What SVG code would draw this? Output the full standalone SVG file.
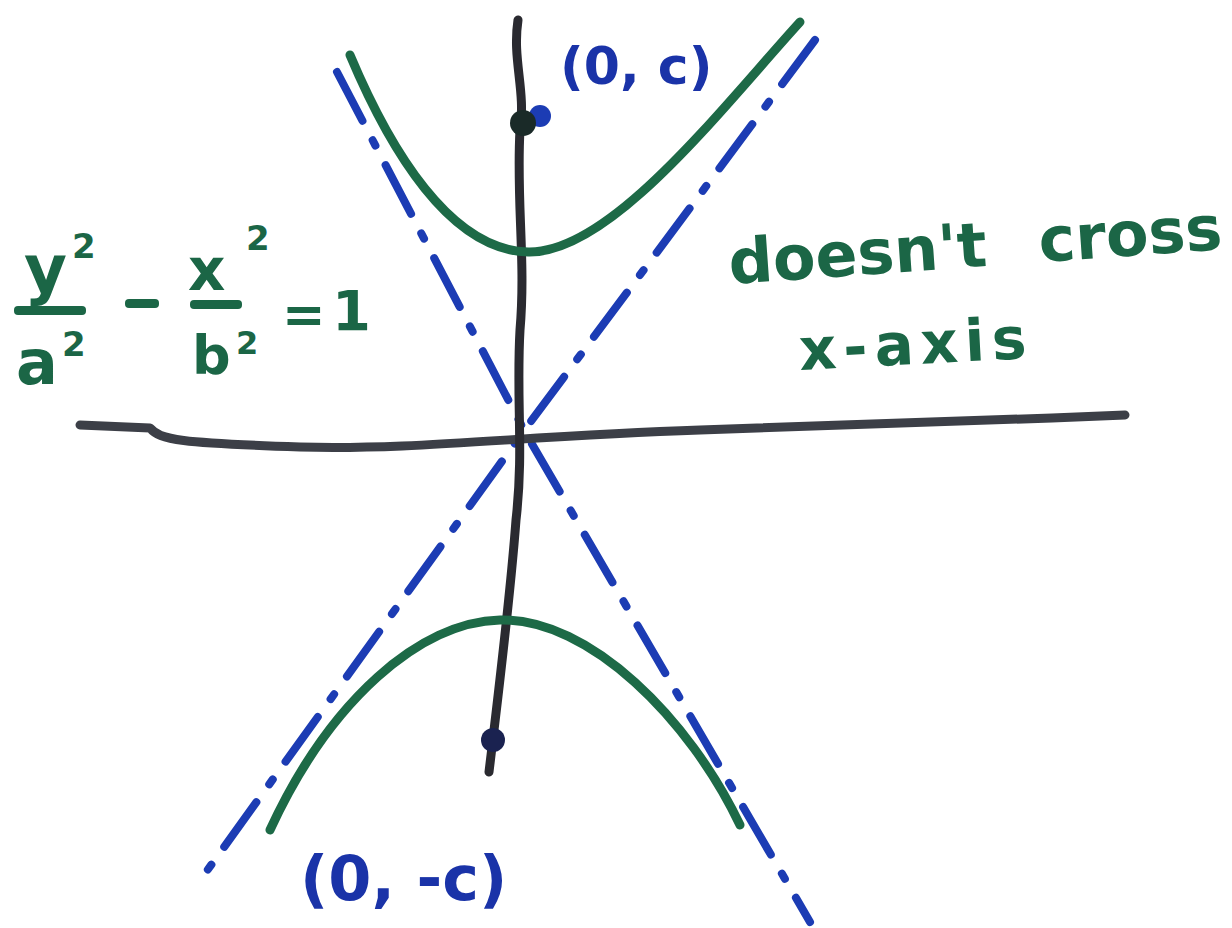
<svg xmlns="http://www.w3.org/2000/svg" width="1232" height="928" viewBox="0 0 1232 928">
<style>
.axis{fill:none;stroke:#2a2a30;stroke-width:9;stroke-linecap:round;stroke-linejoin:round}
.hax{stroke:#3c3f47}
.hyp{fill:none;stroke:#1d6a47;stroke-width:9;stroke-linecap:round}
.asym{fill:none;stroke:#1c3cb4;stroke-width:8;stroke-linecap:round;stroke-dasharray:55 22 6 22}
.g{fill:#1b6646;font-family:"DejaVu Sans",sans-serif;font-weight:bold}
.b{fill:#1a33a8;font-family:"DejaVu Sans",sans-serif;font-weight:bold}
</style>
<rect width="1232" height="928" fill="#ffffff"/>
<g id="connectors">
<path id="asym1" class="asym" d="M337,72 L525,432 L810,922"/>
<path id="asym2" class="asym" d="M815,40 L523,432 L196,886"/>
<path id="xaxis" class="axis hax" d="M80,425 L150,428 C160,440 180,443 300,447 C420,450 520,436 700,430 C900,424 1000,420 1125,415"/>
<path id="yaxis" class="axis" d="M518,20 C512,60 526,90 520,130 C516,200 526,260 520,330 C516,400 524,450 516,520 C510,600 500,680 489,772"/>
</g>
<g id="upper-branch"><path class="hyp" d="M350,55 C390,150 450,250 528,252 C610,254 720,110 800,22"/></g>
<g id="lower-branch"><path class="hyp" d="M270,830 C330,700 420,622 500,620 C590,618 690,720 740,825"/></g>
<g id="focus-top"><circle cx="540" cy="116" r="11" fill="#1c3cb4"/><circle cx="523" cy="123" r="13" fill="#1a2a28"/></g>
<g id="focus-bottom"><circle cx="493" cy="740" r="12" fill="#1a2250"/></g>
<g id="label-top"><text class="b" x="560" y="84" font-size="52">(0, c)</text></g>
<g id="label-bottom"><text class="b" x="300" y="900" font-size="62">(0, -c)</text></g>
<g id="equation">
<text class="g" x="24" y="292" font-size="66">y</text>
<text class="g" x="72" y="258" font-size="34">2</text>
<rect x="14" y="306" width="72" height="9" rx="4" fill="#1b6646"/>
<text class="g" x="16" y="384" font-size="62">a</text>
<text class="g" x="62" y="356" font-size="34">2</text>
<rect x="125" y="299" width="34" height="9" rx="4" fill="#1b6646"/>
<text class="g" x="188" y="290" font-size="58">x</text>
<text class="g" x="246" y="250" font-size="34">2</text>
<rect x="190" y="300" width="52" height="9" rx="4" fill="#1b6646"/>
<text class="g" x="192" y="374" font-size="54">b</text>
<text class="g" x="236" y="354" font-size="32">2</text>
<text class="g" x="282" y="332" font-size="52">=</text>
<text class="g" x="332" y="330" font-size="56">1</text>
</g>
<g id="note">
<text class="g" x="730" y="284" font-size="62" transform="rotate(-4 730 284)">doesn't</text>
<text class="g" x="1040" y="262" font-size="62" transform="rotate(-4 1040 262)">cross</text>
<text class="g" x="800" y="370" font-size="58" letter-spacing="7" transform="rotate(-3 800 370)">x-axis</text>
</g>
</svg>
